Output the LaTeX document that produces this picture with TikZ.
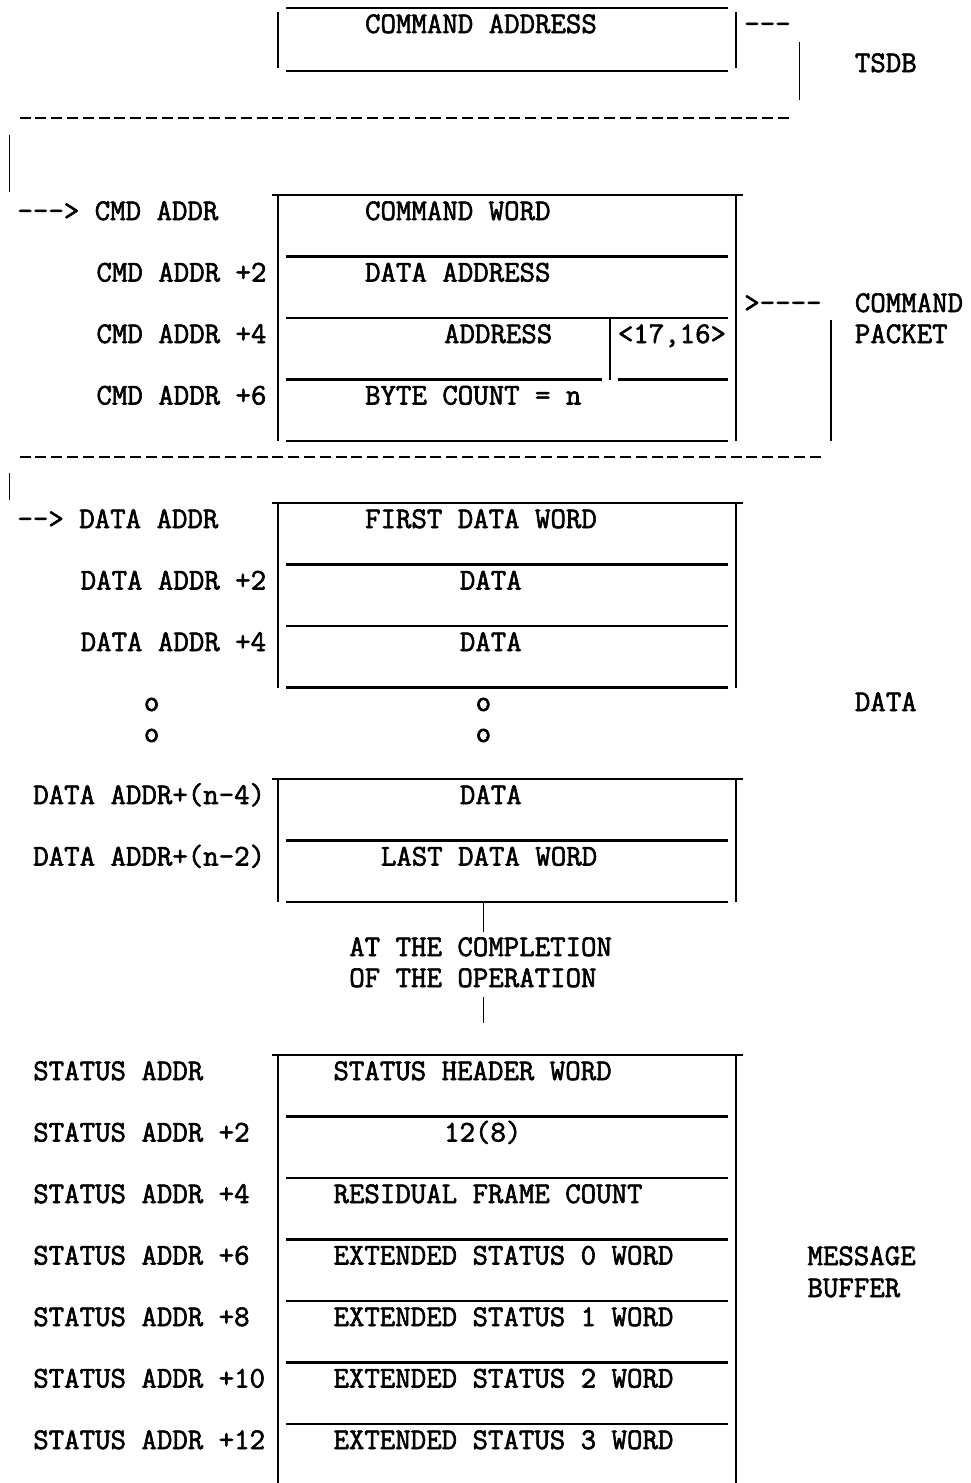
\documentclass[tikz,border=0pt]{standalone}
\usepackage{fontspec}
\setmonofont{Latin Modern Mono}[FakeBold=2]
\begin{document}
\begin{tikzpicture}[x=15.8pt,y=-1pt,
    txt/.style={anchor=base west, inner sep=0pt, font=\ttfamily\fontsize{30}{36}\selectfont},
    hrule/.style={line width=2.2pt},
    vrule/.style={line width=1.6pt},
    dashrule/.style={line width=2pt, dash pattern=on 11pt off 4.8pt}]
  \useasboundingbox (-1.095,0) rectangle (60.36,1483);
  % TSDB
  \node[txt] (cmdaddr) at (22,33) {COMMAND ADDRESS};
  \draw[hrule] (17,8) -- (45,8);
  \draw[hrule] (17,71) -- (45,71);
  \draw[vrule] (16.5,12) -- (16.5,68);
  \draw[vrule] (45.5,12) -- (45.5,68);
  \node[txt] (tsdbdash) at (46,33) {---};
  \coordinate (tsdbtop) at (49.5,42);
  \coordinate (tsdbbot) at (49.5,100);
  \draw[vrule] (tsdbtop) -- (tsdbbot);
  \node[txt] (tsdb) at (53,72) {TSDB};
  \draw[dashrule] (0.15,118) -- (49,118);
  \coordinate (linkA) at (-0.5,135);
  \coordinate (linkB) at (-0.5,192);
  \draw[vrule] (linkA) -- (linkB);
  % command packet
  \draw[hrule] (16.1,195) -- (45.9,195);
  \foreach \y in {256.5,318,441}
  {  \draw[hrule] (17,\y) -- (45,\y);
  }
  \draw[hrule] (17,379.5) -- (37,379.5);
  \draw[hrule] (38,379.5) -- (45,379.5);
  \draw[vrule] (16.5,195) -- (16.5,441);
  \draw[vrule] (45.5,195) -- (45.5,441);
  \draw[vrule] (37.5,318) -- (37.5,379.5);
  \node[txt] (cmd0) at (0,220) {---> CMD ADDR};
  \foreach \i/\y in {2/281.5, 4/343, 6/404.5}
  {  \node[txt] (cmd\i) at (5,\y) {CMD ADDR +\i};
  }
  \node[txt] (cmdword) at (22,220) {COMMAND WORD};
  \node[txt] (dataaddr) at (22,281.5) {DATA ADDRESS};
  \node[txt] (address) at (27,343) {ADDRESS};
  \node[txt] (bits) at (38,343) {<17,16>};
  \node[txt] (bytecount) at (22,404.5) {BYTE COUNT = n};
  \node[txt] (pktdash) at (46,312) {>----};
  \node[txt] (command) at (53,312) {COMMAND};
  \node[txt] (packet) at (53,343) {PACKET};
  \coordinate (pkttop) at (51.5,320);
  \coordinate (pktbot) at (51.5,441);
  \draw[vrule] (pkttop) -- (pktbot);
  \draw[dashrule] (0.15,457) -- (51,457);
  \coordinate (linkC) at (-0.5,473);
  \coordinate (linkD) at (-0.5,500);
  \draw[vrule] (linkC) -- (linkD);
  % data
  \draw[hrule] (16.1,503) -- (45.9,503);
  \foreach \y in {564.5,626,687.5}
  {  \draw[hrule] (17,\y) -- (45,\y);
  }
  \draw[vrule] (16.5,503) -- (16.5,687.5);
  \draw[vrule] (45.5,503) -- (45.5,687.5);
  \node[txt] (data0) at (0,528) {--> DATA ADDR};
  \node[txt] (data2) at (4,589.5) {DATA ADDR +2};
  \node[txt] (data4) at (4,651) {DATA ADDR +4};
  \node[txt] (firstword) at (22,528) {FIRST DATA WORD};
  \node[txt] (word2) at (28,589.5) {DATA};
  \node[txt] (word4) at (28,651) {DATA};
  \foreach \i/\y in {1/711, 2/742}
  {  \node[txt] (dotl\i) at (8,\y) {o};
     \node[txt] (dotr\i) at (29,\y) {o};
  }
  \node[txt] (datalabel) at (53,711) {DATA};
  \draw[hrule] (16.1,779) -- (45.9,779);
  \foreach \y in {840.5,902}
  {  \draw[hrule] (17,\y) -- (45,\y);
  }
  \draw[vrule] (16.5,779) -- (16.5,902);
  \draw[vrule] (45.5,779) -- (45.5,902);
  \node[txt] (datan4) at (1,804) {DATA ADDR+(n-4)};
  \node[txt] (datan2) at (1,865.5) {DATA ADDR+(n-2)};
  \node[txt] (wordn4) at (28,804) {DATA};
  \node[txt] (lastword) at (23,865.5) {LAST DATA WORD};
  % completion
  \node[txt] (done1) at (21,956) {AT THE COMPLETION};
  \node[txt] (done2) at (21,987) {OF THE OPERATION};
  \coordinate (doneA) at (29.5,902);
  \coordinate (doneB) at (29.5,932);
  \coordinate (doneC) at (29.5,997);
  \coordinate (doneD) at (29.5,1023);
  \draw[vrule] (doneA) -- (doneB);
  \draw[vrule] (doneC) -- (doneD);
  % message buffer
  \draw[hrule] (16.1,1055) -- (45.9,1055);
  \foreach \y in {1116.5,1178,1239.5,1301,1362.5,1424}
  {  \draw[hrule] (17,\y) -- (45,\y);
  }
  \draw[vrule] (16.5,1055) -- (16.5,1483);
  \draw[vrule] (45.5,1055) -- (45.5,1483);
  \node[txt] (stat0) at (1,1080) {STATUS ADDR};
  \foreach \i/\y in {2/1141.5, 4/1203, 6/1264.5, 8/1326, 10/1387.5, 12/1449}
  {  \node[txt] (stat\i) at (1,\y) {STATUS ADDR +\i};
  }
  \node[txt] (header) at (20,1080) {STATUS HEADER WORD};
  \node[txt] (count) at (27,1141.5) {12(8)};
  \node[txt] (residual) at (20,1203) {RESIDUAL FRAME COUNT};
  \foreach \i/\y in {0/1264.5, 1/1326, 2/1387.5, 3/1449}
  {  \node[txt] (ext\i) at (20,\y) {EXTENDED STATUS \i\ WORD};
  }
  \node[txt] (message) at (50,1265) {MESSAGE};
  \node[txt] (buffer) at (50,1297) {BUFFER};
\end{tikzpicture}
\end{document}
